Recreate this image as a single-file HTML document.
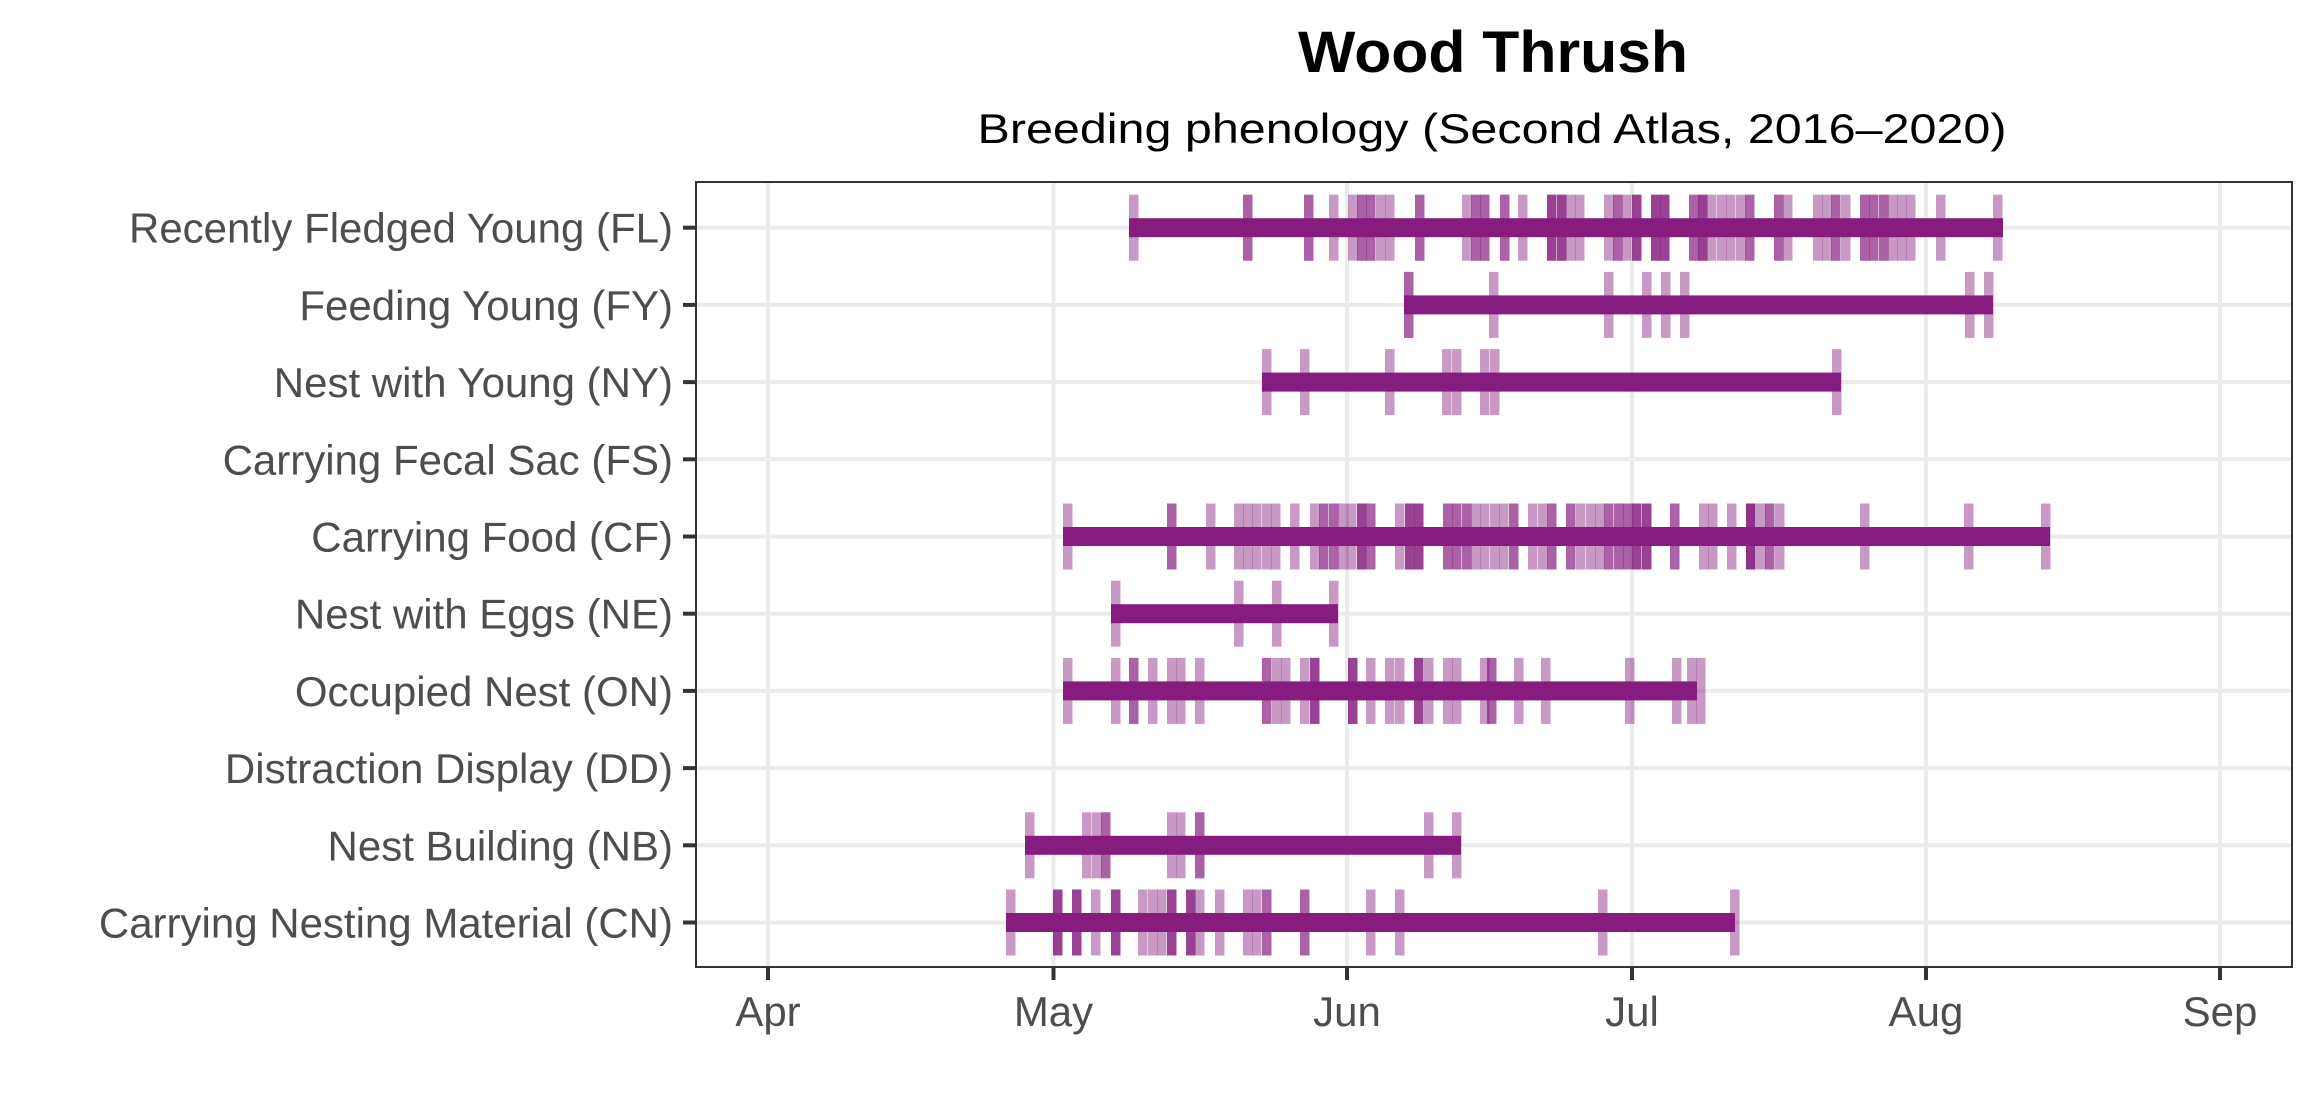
<!DOCTYPE html>
<html><head><meta charset="utf-8"><style>html,body{margin:0;padding:0;background:#fff}svg{display:block}</style></head>
<body>
<svg id="s" width="2320" height="1120" viewBox="0 0 2320 1120" xmlns="http://www.w3.org/2000/svg" font-family="Liberation Sans, Arial, sans-serif">
<rect width="2320" height="1120" fill="#fff"/>
<text x="1493" y="72" font-size="58" font-weight="bold" text-anchor="middle" textLength="390" lengthAdjust="spacingAndGlyphs">Wood Thrush</text>
<text x="1492" y="143" font-size="42" text-anchor="middle" textLength="1029" lengthAdjust="spacingAndGlyphs">Breeding phenology (Second Atlas, 2016–2020)</text>
<g id="grid"></g>
<g id="data"></g>
<rect x="696" y="182" width="1596" height="785" fill="none" stroke="#333" stroke-width="2"/>
<g id="axes" fill="#4d4d4d" font-size="42"></g>
</svg>
<script>
const NS="http://www.w3.org/2000/svg";
function el(p,t,a,txt){const e=document.createElementNS(NS,t);for(const k in a)e.setAttribute(k,a[k]);if(txt)e.textContent=txt;document.getElementById(p).appendChild(e);return e;}
const rows=["Recently Fledged Young (FL)","Feeding Young (FY)","Nest with Young (NY)","Carrying Fecal Sac (FS)","Carrying Food (CF)","Nest with Eggs (NE)","Occupied Nest (ON)","Distraction Display (DD)","Nest Building (NB)","Carrying Nesting Material (CN)"];
const ry=i=>227.7+77.2*i;
const xs=[[768,"Apr"],[1053.5,"May"],[1347,"Jun"],[1632,"Jul"],[1926,"Aug"],[2220,"Sep"]];
xs.forEach(([x,l])=>{el("grid","line",{x1:x,x2:x,y1:182,y2:967,stroke:"#ebebeb","stroke-width":4});
 el("axes","line",{x1:x,x2:x,y1:967,y2:980,stroke:"#333","stroke-width":4});
 el("axes","text",{x:x,y:1026,"text-anchor":"middle"},l);});
rows.forEach((r,i)=>{const y=ry(i);el("grid","line",{x1:696,x2:2292,y1:y,y2:y,stroke:"#ebebeb","stroke-width":4});
 el("axes","line",{x1:683,x2:696,y1:y,y2:y,stroke:"#333","stroke-width":4});
 el("axes","text",{x:673,y:y+15,"text-anchor":"end"},r);});
const C="#861d7e";
const data={
0:{bar:[1129,2003],t:[[1129,1],[1243,2],[1304,2],[1329,1],[1348,1],[1357,2],[1366,2],[1376,1],[1385,1],[1415,2],[1462,1],[1471,2],[1480,2],[1500,2],[1518,1],[1547,3],[1557,3],[1566,1],[1575,1],[1604,1],[1613,2],[1622,1],[1632,3],[1651,3],[1660,3],[1689,2],[1698,3],[1707,1],[1717,1],[1726,1],[1736,1],[1745,2],[1774,2],[1783,1],[1813,1],[1822,1],[1831,2],[1841,1],[1860,2],[1869,2],[1879,2],[1888,1],[1897,1],[1906,1],[1936,1],[1993,1]]},
1:{bar:[1404,1993],t:[[1404,2],[1489,1],[1604,1],[1642,1],[1661,1],[1680,1],[1965,1],[1984,1]]},
2:{bar:[1262,1841],t:[[1262,1],[1300,1],[1385,1],[1442,1],[1452,1],[1480,1],[1490,1],[1832,1]]},
4:{bar:[1063,2050],t:[[1063,1],[1167,2],[1206,1],[1234,1],[1243,1],[1252,1],[1262,1],[1271,1],[1290,1],[1310,1],[1319,2],[1329,2],[1338,1],[1347,1],[1357,3],[1366,2],[1395,1],[1405,3],[1414,3],[1443,2],[1452,2],[1462,2],[1471,1],[1480,1],[1490,1],[1499,1],[1509,2],[1528,1],[1538,1],[1547,2],[1566,2],[1576,1],[1586,1],[1595,1],[1604,2],[1614,2],[1623,2],[1632,3],[1642,3],[1670,2],[1699,1],[1708,1],[1727,1],[1746,4],[1756,1],[1765,2],[1775,1],[1860,1],[1964,1],[2041,1]]},
5:{bar:[1111,1338],t:[[1111,1],[1234,1],[1272,1],[1329,1]]},
6:{bar:[1063,1697],t:[[1063,1],[1111,1],[1129,2],[1148,1],[1167,1],[1176,1],[1195,1],[1262,2],[1272,1],[1281,1],[1300,1],[1310,3],[1348,3],[1366,1],[1385,1],[1395,1],[1414,3],[1424,1],[1443,1],[1452,1],[1480,1],[1487,2],[1514,1],[1541,1],[1625,1],[1672,1],[1687,1],[1696,1]]},
8:{bar:[1025,1461],t:[[1025,1],[1082,1],[1092,1],[1101,2],[1167,1],[1176,1],[1195,2],[1424,1],[1452,1]]},
9:{bar:[1006,1735],t:[[1006,1],[1053,3],[1072,3],[1091,1],[1111,3],[1138,1],[1148,1],[1157,1],[1167,3],[1186,3],[1195,1],[1215,1],[1243,1],[1252,1],[1262,2],[1300,2],[1366,1],[1395,1],[1598,1],[1730,1]]}};
for(const k in data){const y=ry(+k),d=data[k];
 el("data","rect",{x:d.bar[0],y:y-9.5,width:d.bar[1]-d.bar[0],height:19,fill:C});
 d.t.forEach(([x,n])=>{for(let j=0;j<n;j++)el("data","rect",{x:x,y:y-33,width:9.5,height:66,fill:C,"fill-opacity":0.45});});}
</script>
</body></html>
